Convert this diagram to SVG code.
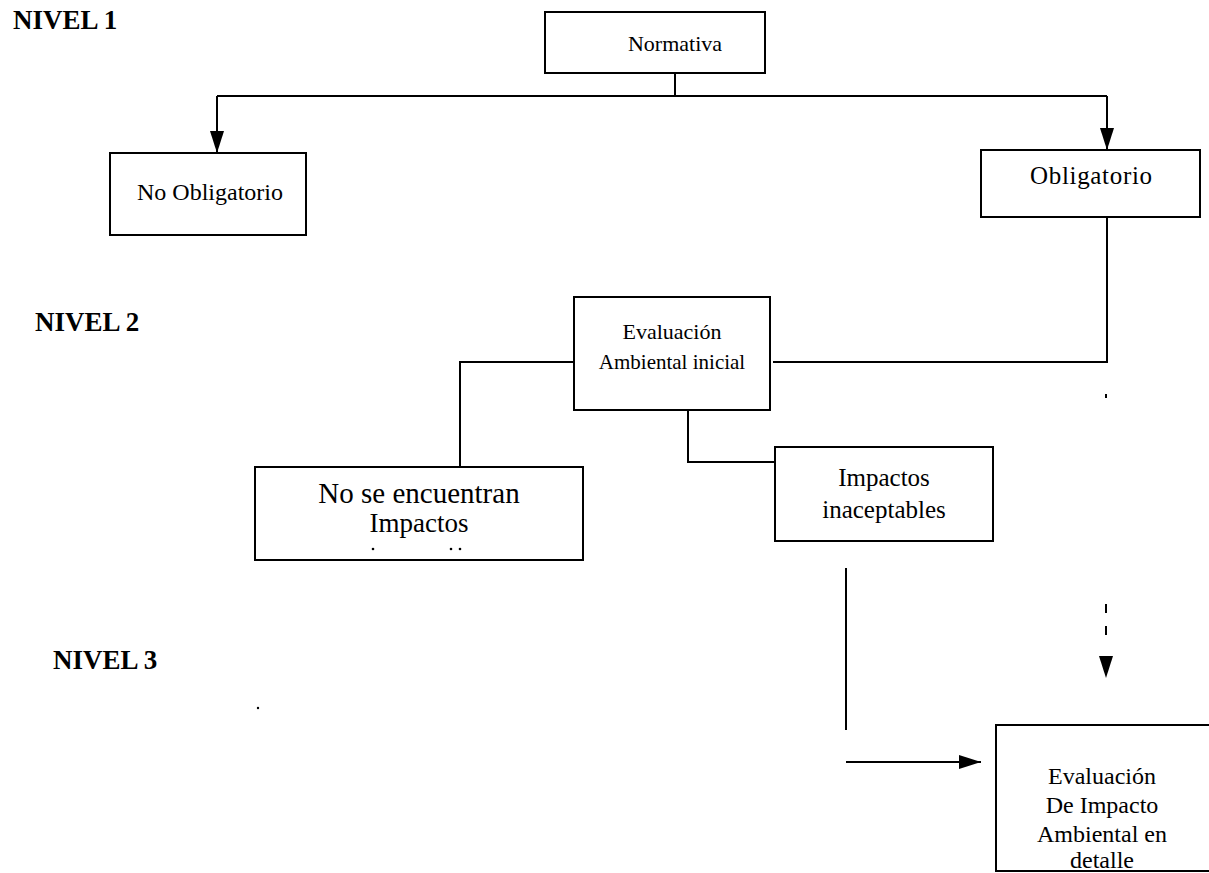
<svg xmlns="http://www.w3.org/2000/svg" width="1209" height="873" viewBox="0 0 1209 873">
  <defs>
    <style>
      .box { fill: #ffffff; stroke: #000000; stroke-width: 2; }
      .lvl { font-family: "Liberation Serif", "Times New Roman", serif; font-weight: bold; font-size: 27px; fill: #000; }
      .t { font-family: "Liberation Serif", "Times New Roman", serif; font-size: 23px; fill: #000; text-anchor: middle; }
      .line { fill: none; stroke: #000; stroke-width: 2; }
      .dot { fill: #000; }
      .head { fill: #000; stroke: none; }
    </style>
    <marker id="arrow" markerUnits="userSpaceOnUse" markerWidth="22" markerHeight="14" refX="22" refY="7" viewBox="0 0 22 14" orient="auto">
      <path d="M0,0 L22,7 L0,14 Z" fill="#000"/>
    </marker>
  </defs>
  <rect width="1209" height="873" fill="#ffffff"/>

  <g id="levels">
    <text class="lvl" x="13" y="29">NIVEL 1</text>
    <text class="lvl" x="35" y="331">NIVEL 2</text>
    <text class="lvl" x="53" y="669">NIVEL 3</text>
  </g>

  <g id="connectors">
    <path class="line" d="M675,73 V96"/>
    <path class="line" d="M217,96 H1107"/>
    <path class="line" d="M217,96 V153" marker-end="url(#arrow)"/>
    <path class="line" d="M1107,96 V150" marker-end="url(#arrow)"/>
    <path class="line" d="M1107,217 V362 H773"/>
    <path class="line" d="M574,362 H460 V467"/>
    <path class="line" d="M688,410 V462 H775"/>
    <path class="line" d="M846,568 V730"/>
    <path class="line" d="M846,762 H981" marker-end="url(#arrow)"/>
    <path class="line" d="M1106,394 V398 M1106,604 V613 M1106,626 V635"/>
    <path class="head" d="M1099,656 L1113,656 L1106,678 Z"/>
  </g>

  <g id="normativa">
    <rect class="box" x="545" y="12" width="220" height="61"/>
    <text class="t" x="675" y="51" style="font-size:22px">Normativa</text>
  </g>

  <g id="no-obligatorio">
    <rect class="box" x="110" y="153" width="196" height="82"/>
    <text class="t" x="210" y="200" style="font-size:24px">No Obligatorio</text>
  </g>

  <g id="obligatorio">
    <rect class="box" x="981" y="150" width="219" height="67"/>
    <text class="t" x="1091" y="184" style="font-size:25px" textLength="122">Obligatorio</text>
  </g>

  <g id="evaluacion-inicial">
    <rect class="box" x="574" y="297" width="196" height="113"/>
    <text class="t" x="672" y="339" style="font-size:22px">Evaluación</text>
    <text class="t" x="672" y="369" style="font-size:21px">Ambiental inicial</text>
  </g>

  <g id="no-impactos">
    <rect class="box" x="255" y="467" width="328" height="93"/>
    <text class="t" x="419" y="503" style="font-size:29px">No se encuentran</text>
    <text class="t" x="419" y="532" style="font-size:27px">Impactos</text>
    <circle class="dot" cx="373" cy="549" r="1.3"/>
    <circle class="dot" cx="451" cy="549" r="1.3"/>
    <circle class="dot" cx="460" cy="549" r="1.3"/>
  </g>

  <g id="impactos-inaceptables">
    <rect class="box" x="775" y="447" width="218" height="94"/>
    <text class="t" x="884" y="486" style="font-size:25px">Impactos</text>
    <text class="t" x="884" y="518" style="font-size:25px">inaceptables</text>
  </g>

  <g id="evaluacion-detalle">
    <rect class="box" x="996" y="725" width="216" height="146"/>
    <text class="t" x="1102" y="784" style="font-size:24px">Evaluación</text>
    <text class="t" x="1102" y="813" style="font-size:24px">De Impacto</text>
    <text class="t" x="1102" y="842" style="font-size:24px">Ambiental en</text>
    <text class="t" x="1102" y="868" style="font-size:24px">detalle</text>
  </g>

  <circle class="dot" cx="258" cy="708" r="1.2"/>
</svg>
